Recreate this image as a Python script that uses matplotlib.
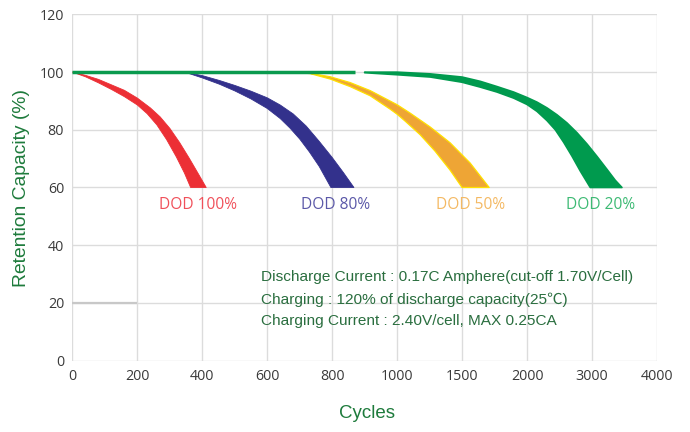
import numpy as np
import matplotlib
matplotlib.use("Agg")
import matplotlib.pyplot as plt

# ---- data ----
x_ticks = [0, 200, 400, 600, 800, 1000, 1500, 2000, 3000, 4000]
y_ticks = [0, 20, 40, 60, 80, 100, 120]

red_outer_x = [0, 40, 80, 120, 160, 200, 240, 270, 300, 330, 360, 390, 412]
red_outer_y = [100, 98.9, 97.5, 95.6, 93.7, 91.0, 87.6, 84.5, 80.5, 75.6, 70.1, 64.3, 60]
red_inner_x = [0, 40, 80, 120, 160, 200, 230, 260, 290, 320, 345, 364]
red_inner_y = [100, 98.4, 96.3, 94.0, 91.5, 88.6, 85.6, 81.7, 76.6, 70.6, 65.0, 60]

blue_outer_x = [346, 400, 453, 500, 550, 600, 640, 680, 720, 760, 800, 835, 867]
blue_outer_y = [100, 98.8, 97.1, 95.4, 93.4, 91.1, 88.6, 85.5, 81.3, 76.0, 70.4, 65.1, 60]
blue_inner_x = [346, 400, 453, 500, 550, 600, 640, 670, 700, 730, 760, 796]
blue_inner_y = [100, 98.0, 95.8, 93.5, 90.7, 87.4, 83.9, 80.6, 76.8, 72.3, 67.3, 60]

orange_outer_x = [675, 732, 794, 855, 917, 978, 1000, 1100, 1254, 1408, 1562, 1709]
orange_outer_y = [100, 99.6, 98.4, 96.4, 93.6, 90.0, 88.7, 85.8, 81.0, 75.5, 68.5, 60]
orange_inner_x = [675, 732, 794, 855, 917, 978, 1000, 1062, 1177, 1292, 1408, 1500]
orange_inner_y = [100, 99.5, 97.6, 95.0, 91.8, 87.2, 85.4, 83.0, 78.3, 72.6, 66.0, 60]

green_outer_x = [900, 1000, 1256, 1500, 1641, 1769, 1897, 2000, 2154, 2308, 2462,
                 2615, 2769, 2923, 3077, 3231, 3359, 3462]
green_outer_y = [100, 100, 99.4, 98.3, 96.8, 95.0, 93.1, 91.2, 89.6, 87.6, 85.2,
                 82.4, 79.0, 75.1, 70.8, 66.3, 62.5, 60]
green_inner_x = [900, 1000, 1256, 1500, 1641, 1769, 1897, 2000, 2154, 2308, 2436,
                 2564, 2692, 2821, 2974]
green_inner_y = [99.8, 99.1, 98.3, 96.5, 94.8, 93.1, 91.0, 88.8, 86.4, 83.2, 80.0,
                 75.7, 70.9, 65.7, 60]

flat_x = [0, 870]
flat_y = [100, 100]
gray_x = [0, 200]
gray_y = [20, 20]

labels = ["DOD 100%", "DOD 80%", "DOD 50%", "DOD 20%"]
label_x = [387, 809, 1562, 3128]
label_y = [54.0, 54.0, 54.0, 54.0]

notes = ["Discharge Current : 0.17C Amphere(cut-off 1.70V/Cell)",
         "Charging : 120% of discharge capacity(25\u2103)",
         "Charging Current : 2.40V/cell, MAX 0.25CA"]

# ---- scale ----
pos = np.arange(len(x_ticks), dtype=float)
def fwd(v):
    return np.interp(np.asarray(v, dtype=float), x_ticks, pos)
def inv(p):
    return np.interp(np.asarray(p, dtype=float), pos, x_ticks)

fig = plt.figure(figsize=(6.9, 4.32), dpi=100)
ax = fig.add_axes([0.105, 0.1655, 0.847, 0.801])
ax.set_xscale('function', functions=(fwd, inv))
ax.set_xlim(0, 4000)
ax.set_ylim(0, 120)
ax.set_xticks(x_ticks)
ax.set_xticklabels([str(t) for t in x_ticks])
ax.set_yticks(y_ticks)
ax.minorticks_off()
ax.grid(True, color='#dcdcdc', linewidth=1.0)
ax.set_axisbelow(True)
for s in ax.spines.values():
    s.set_visible(False)
ax.tick_params(length=0, labelsize=10.3, labelcolor='#3a3a3a', pad=6)
for lab in ax.get_xticklabels() + ax.get_yticklabels():
    lab.set_family('Open Sans')

def band(ox, oy, ix, iy, color, edge=None, lw=0.0):
    xs = list(ox) + list(ix)[::-1]
    ys = list(oy) + list(iy)[::-1]
    ax.fill(xs, ys, facecolor=color, edgecolor=edge if edge else color,
            linewidth=lw if edge else 0.6, zorder=3, joinstyle='round')

band(red_outer_x, red_outer_y, red_inner_x, red_inner_y, '#ec2f35')
band(blue_outer_x, blue_outer_y, blue_inner_x, blue_inner_y, '#33318c')
band(orange_outer_x, orange_outer_y, orange_inner_x, orange_inner_y, '#eea535',
     edge='#ffe100', lw=0.9)
band(green_outer_x, green_outer_y, green_inner_x, green_inner_y, '#009a4e',
     edge='#009a4e', lw=1.2)

ax.plot(flat_x, flat_y, color='#0a9a4e', linewidth=2.5, zorder=4,
        solid_capstyle='butt')
ax.plot(gray_x, gray_y, color='#c8c8c8', linewidth=1.6, zorder=2,
        solid_capstyle='butt')

label_colors = ['#f0505a', '#5b58a8', '#f4b963', '#3dba74']
for t, x, y, c in zip(labels, label_x, label_y, label_colors):
    ax.text(x, y, t, color=c, fontsize=11.2, family='Open Sans',
            ha='center', va='center', zorder=2)

for i, t in enumerate(notes):
    fig.text(261 / 690, 1 - (277.5 + 22 * i) / 432, t, color='#2a6e3f',
             fontsize=11.1, family=['Liberation Sans', 'Noto Sans CJK SC', 'DejaVu Sans'],
             ha='left', va='center')

fig.text(367 / 690, 1 - 413 / 432, 'Cycles', color='#1e7b3c', fontsize=13.5,
         family='Liberation Sans', ha='center', va='center')
fig.text(22 / 690, 1 - 188 / 432, 'Retention Capacity (%)', color='#1e7b3c',
         fontsize=13.9, family='Liberation Sans', ha='center', va='center',
         rotation=90)

fig.savefig('out.png', dpi=100)
